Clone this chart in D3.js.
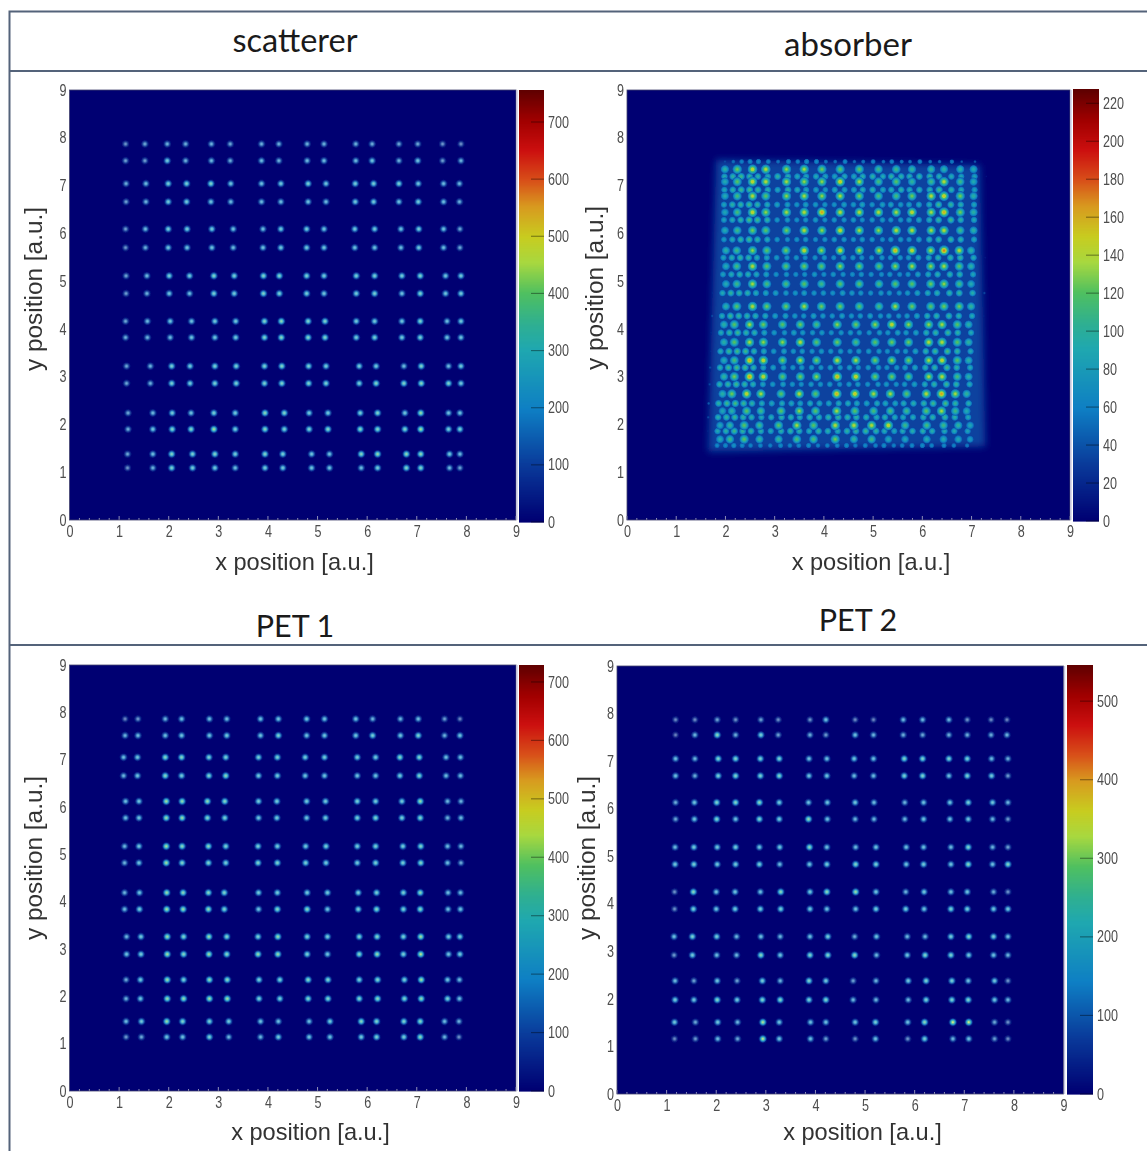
<!DOCTYPE html>
<html><head><meta charset="utf-8">
<script src="https://d3js.org/d3.v7.min.js"></script>
<style>html,body{margin:0;background:#fff}svg{display:block}</style></head><body>
<div id="chart"></div>
<script>
const axisTicks=[0,1,2,3,4,5,6,7,8,9];
const xLabel="x position [a.u.]", yLabel="y position [a.u.]";
const palettePositions=[0,.13,.26,.40,.46,.53,.6,.66,.73,.79,.86,.93,1];
const paletteColors=["#000072","#0a3a9a","#0f7fc4","#20a8b0","#30b090","#50c060","#a8d840","#c8cc20","#d89a20","#d8501a","#cc1010","#a00000","#5f0000"];

const scatTicks=[0,100,200,300,400,500,600,700];
const absTicks=[0,20,40,60,80,100,120,140,160,180,200,220];
const pet1Ticks=[0,100,200,300,400,500,600,700];
const pet2Ticks=[0,100,200,300,400,500];

const scatY=[7.87,7.52,7.04,6.66,6.09,5.70,5.11,4.74,4.16,3.82,3.22,2.86,2.24,1.90,1.38,1.09];
const scatX=[
[1.13,1.52,1.97,2.34,2.86,3.24,3.87,4.22,4.79,5.13,5.77,6.10,6.64,7.02,7.52,7.89],
[1.14,1.54,1.99,2.36,2.85,3.25,3.87,4.26,4.81,5.17,5.76,6.13,6.64,7.03,7.54,7.86],
[1.13,1.53,1.99,2.37,2.87,3.30,3.90,4.26,4.78,5.13,5.75,6.15,6.68,7.04,7.54,7.87],
[1.14,1.56,2.01,2.42,2.91,3.32,3.91,4.23,4.78,5.13,5.78,6.15,6.70,7.07,7.58,7.89],
[1.13,1.57,2.03,2.46,2.93,3.35,3.93,4.27,4.81,5.15,5.78,6.15,6.70,7.07,7.61,7.89],
[1.15,1.63,2.06,2.43,2.93,3.36,3.93,4.28,4.82,5.17,5.84,6.18,6.74,7.09,7.64,7.89],
[1.18,1.68,2.07,2.45,2.91,3.34,3.94,4.33,4.83,5.21,5.86,6.21,6.76,7.08,7.64,7.87],
[1.17,1.68,2.06,2.48,2.93,3.34,3.94,4.30,4.88,5.24,5.88,6.21,6.79,7.08,7.66,7.87]];
const scatZ=[
[120,170,190,180,200,170,190,190,190,190,190,180,170,170,130,110],
[150,140,270,190,210,180,220,190,210,220,220,250,190,240,140,200],
[180,220,300,310,340,260,240,270,310,260,290,300,320,260,220,210],
[150,200,280,280,250,220,220,230,240,220,270,280,240,290,230,190],
[140,220,290,280,280,240,230,280,280,250,270,280,250,290,240,170],
[130,190,260,240,250,220,240,270,270,260,240,240,230,270,230,170],
[160,210,300,280,340,300,340,340,310,280,300,300,290,330,260,280],
[140,190,260,230,310,280,340,310,300,260,290,310,240,330,260,290],
[170,210,260,240,280,270,340,380,330,330,280,280,260,330,230,270],
[190,200,220,260,260,270,330,360,350,340,290,310,280,310,240,250],
[170,200,310,280,310,310,320,350,320,290,290,270,220,340,220,280],
[170,190,320,290,310,320,320,340,340,320,300,350,340,370,340,270],
[170,210,290,240,300,270,370,340,280,270,300,340,260,400,240,240],
[180,260,340,350,420,290,360,310,320,350,360,350,330,420,290,310],
[170,230,350,320,340,290,340,300,260,240,360,390,380,380,270,220],
[120,200,320,290,270,230,290,270,260,240,230,290,340,340,210,160]];

const pet1Y=[7.86,7.51,7.05,6.66,6.12,5.77,5.17,4.82,4.19,3.84,3.26,2.89,2.35,1.95,1.47,1.14];
const pet1X=[
[1.12,1.38,1.93,2.26,2.82,3.17,3.85,4.21,4.78,5.14,5.77,6.11,6.67,7.03,7.56,7.87],
[1.09,1.37,1.93,2.26,2.81,3.15,3.81,4.19,4.75,5.14,5.80,6.17,6.66,7.05,7.59,7.88],
[1.13,1.40,1.95,2.27,2.78,3.13,3.81,4.18,4.78,5.16,5.80,6.17,6.70,7.07,7.62,7.89],
[1.11,1.40,1.95,2.27,2.80,3.15,3.80,4.19,4.76,5.17,5.80,6.17,6.72,7.08,7.62,7.89],
[1.11,1.41,1.96,2.29,2.80,3.12,3.81,4.19,4.79,5.20,5.82,6.19,6.73,7.07,7.63,7.88],
[1.15,1.44,1.97,2.30,2.81,3.17,3.80,4.20,4.79,5.20,5.84,6.20,6.73,7.08,7.64,7.87],
[1.14,1.43,1.97,2.30,2.82,3.18,3.82,4.24,4.81,5.21,5.84,6.21,6.75,7.09,7.62,7.86],
[1.14,1.45,1.96,2.28,2.82,3.21,3.85,4.21,4.83,5.25,5.88,6.19,6.74,7.07,7.56,7.85]];
const pet1Z=[
[90,130,190,220,220,210,230,240,250,230,230,190,200,210,140,90],
[190,210,220,240,240,260,240,310,230,250,250,290,250,310,180,240],
[220,250,340,340,300,290,290,300,280,280,280,260,340,320,220,220],
[200,240,340,270,310,360,260,270,240,240,230,230,270,320,210,210],
[220,240,400,370,370,340,280,280,270,270,290,280,270,390,200,190],
[220,240,380,390,330,300,250,270,250,270,290,320,290,330,180,210],
[200,250,410,350,360,300,290,280,260,290,280,300,280,330,210,200],
[190,240,400,330,330,290,330,320,300,270,270,300,290,340,220,170],
[190,240,390,360,350,320,280,280,270,270,280,300,300,360,220,210],
[210,280,400,390,380,310,230,340,360,240,290,340,300,350,210,230],
[200,260,390,320,390,320,300,380,300,280,310,330,290,400,260,280],
[230,280,400,340,400,340,380,380,300,240,340,380,290,430,230,270],
[170,260,390,290,370,350,290,300,340,310,290,320,290,400,240,210],
[180,250,380,380,400,400,290,290,330,320,330,360,320,370,300,220],
[210,270,390,320,300,270,230,220,220,270,350,320,310,340,210,180],
[130,170,240,230,300,200,200,270,240,230,260,300,280,360,190,110]];

const pet2Y=[7.87,7.55,7.05,6.69,6.13,5.78,5.19,4.83,4.25,3.89,3.31,2.92,2.38,1.98,1.51,1.16];
const pet2X=[
[1.18,1.57,2.02,2.39,2.90,3.25,3.89,4.21,4.80,5.17,5.77,6.16,6.69,7.06,7.54,7.86],
[1.18,1.57,2.04,2.39,2.89,3.27,3.87,4.23,4.78,5.17,5.79,6.16,6.69,7.06,7.55,7.88],
[1.18,1.56,2.01,2.39,2.87,3.27,3.86,4.24,4.80,5.18,5.80,6.18,6.71,7.08,7.57,7.88],
[1.17,1.55,2.02,2.39,2.87,3.28,3.88,4.23,4.81,5.22,5.83,6.18,6.73,7.08,7.57,7.88],
[1.16,1.54,2.00,2.38,2.89,3.30,3.89,4.23,4.81,5.22,5.82,6.19,6.73,7.06,7.59,7.88],
[1.15,1.52,2.01,2.41,2.90,3.29,3.89,4.25,4.79,5.23,5.85,6.21,6.73,7.09,7.59,7.88],
[1.17,1.55,2.02,2.42,2.93,3.29,3.87,4.21,4.76,5.22,5.87,6.23,6.75,7.08,7.61,7.88],
[1.16,1.58,2.03,2.43,2.94,3.27,3.90,4.21,4.80,5.21,5.86,6.20,6.77,7.09,7.61,7.88]];
const pet2Z=[
[70,70,110,80,110,80,90,170,70,60,150,150,150,90,70,60],
[50,140,260,130,220,110,130,100,170,140,130,120,130,130,130,140],
[170,150,240,240,230,230,170,170,190,170,250,240,230,220,160,130],
[170,130,220,240,230,250,180,180,160,160,230,240,170,230,200,100],
[130,180,240,250,270,200,170,180,190,160,140,170,180,220,190,140],
[120,180,240,170,240,200,280,170,150,150,150,180,170,180,150,100],
[160,200,190,210,180,190,270,170,160,180,170,170,160,240,140,110],
[190,220,190,200,220,160,180,210,250,220,180,200,180,260,170,250],
[80,260,170,180,170,270,190,270,290,180,140,190,170,180,130,90],
[80,220,180,200,210,220,190,170,170,210,210,180,230,210,190,190],
[170,230,210,150,170,150,170,210,130,180,150,150,210,250,210,170],
[100,200,160,150,260,180,240,240,260,150,180,240,230,190,170,140],
[160,110,180,110,210,140,240,190,110,140,190,230,220,170,190,90],
[200,180,250,190,240,250,220,240,150,140,150,220,230,240,180,150],
[190,120,190,150,310,180,170,170,180,220,170,270,340,340,120,80],
[70,100,160,120,320,180,170,110,90,170,90,220,150,170,110,70]];

const absY=[7.34,7.08,6.78,6.44,6.06,5.64,5.31,4.94,4.47,4.09,3.72,3.34,3.00,2.64,2.28,1.98,1.69];
const absXTop=[1.99,2.24,2.55,2.82,3.24,3.60,3.96,4.33,4.72,5.11,5.47,5.79,6.18,6.44,6.77,7.04];
const absXUpper=[2.01,2.23,2.55,2.84,3.23,3.60,3.95,4.33,4.72,5.12,5.45,5.79,6.17,6.44,6.75,6.99];
const absXMiddle=[1.97,2.18,2.49,2.77,3.16,3.52,3.85,4.27,4.65,5.04,5.38,5.72,6.13,6.40,6.71,6.94];
const absXLower=[1.94,2.13,2.43,2.72,3.13,3.50,3.83,4.26,4.63,5.01,5.35,5.68,6.08,6.39,6.67,6.90];
const absXBottom=[1.89,2.09,2.38,2.69,3.08,3.45,3.79,4.23,4.61,4.97,5.31,5.65,6.09,6.43,6.73,6.97];
const absRowColumns=[absXTop,absXTop,absXTop,absXTop,absXTop,absXUpper,absXUpper,absXUpper,absXUpper,absXMiddle,absXMiddle,absXMiddle,absXMiddle,absXLower,absXLower,absXBottom,absXBottom];
const absZ=[
[90,115,135,130,120,125,115,110,110,100,100,95,95,90,90,85],
[85,110,135,130,125,120,120,140,125,105,110,95,100,130,100,85],
[85,105,130,110,120,125,120,125,115,105,105,115,130,140,115,90],
[80,105,135,120,125,130,150,130,130,130,125,135,125,145,115,90],
[85,100,115,110,115,130,120,135,125,120,130,130,125,130,100,90],
[90,100,120,110,115,135,120,135,125,125,145,135,125,155,130,90],
[85,105,130,110,110,115,110,120,115,110,120,125,120,125,110,90],
[85,100,125,105,105,110,100,110,110,105,110,110,115,120,105,85],
[90,110,130,115,115,125,115,115,110,105,125,115,110,115,115,95],
[90,110,125,115,110,115,105,120,115,120,135,120,120,125,110,90],
[90,110,125,120,120,130,110,115,105,110,115,115,130,130,110,95],
[85,105,145,135,115,125,115,130,125,115,120,115,125,135,110,90],
[95,115,150,135,110,115,120,145,140,115,115,110,125,130,105,90],
[90,115,135,125,110,130,110,145,140,125,125,110,130,150,125,95],
[80,90,110,100,110,120,110,125,110,105,105,100,110,125,100,85],
[80,95,110,100,110,125,110,130,130,130,135,100,105,100,95,80],
[85,100,110,95,95,105,105,115,95,100,80,80,85,85,80,70]];
const absMinorY=[7.50,7.19,6.91,6.60,6.28,5.87,5.49,5.14,4.75,4.27,3.92,3.53,3.19,2.84,2.44,2.15,1.86,1.56];
const absMinorX=[1.69,1.89,2.06,2.23,2.40,2.57,2.77,2.97,3.18,3.37,3.55,3.75,3.94,4.13,4.33,4.52,4.70,4.90,5.11,5.28,5.48,5.65,5.85,6.06,6.25,6.50,6.70,6.97,7.21];
const absMinorShift=[.1,.09,.09,.08,.08,.08,.07,.06,.05,.04,.02,.01,0,-.01,-.03,-.04,-.05,-.06];
const absMinorZ=[
[0,38,48,55,60,62,58,50,60,55,62,60,50,48,58,45,50,55,48,55,50,48,55,48,45,52,42,40,0],
[30,85,92,100,95,90,85,95,88,82,80,85,80,78,85,80,88,92,85,95,90,88,92,95,88,85,80,78,35],
[28,80,90,98,100,95,88,80,92,85,80,75,72,80,75,78,85,90,80,85,90,85,88,90,100,90,85,75,30],
[25,78,92,95,100,92,85,78,75,70,75,72,70,68,75,72,80,70,75,78,72,75,80,85,100,95,88,80,30],
[28,75,85,92,105,100,92,70,72,65,68,72,65,70,68,72,66,70,72,68,70,74,78,85,95,100,90,82,32],
[30,72,85,95,100,92,85,70,65,68,70,65,68,72,70,68,72,70,66,70,72,68,75,88,92,95,90,80,30],
[32,78,88,95,92,85,80,72,68,70,65,68,70,65,72,70,68,66,70,65,70,72,76,85,90,92,95,85,35],
[30,75,85,90,88,82,78,68,70,65,68,72,66,70,68,65,70,68,66,70,65,68,75,82,88,90,92,80,32],
[35,85,95,92,90,85,80,75,72,70,75,70,72,68,75,72,70,68,72,70,68,72,78,85,88,92,95,88,38],
[38,85,98,95,92,88,85,75,78,72,70,78,72,70,75,70,72,75,70,72,68,72,78,88,92,95,90,85,35],
[35,85,95,100,92,90,80,72,70,75,72,70,72,68,70,72,70,68,72,70,75,72,76,88,95,98,92,85,32],
[35,85,98,102,100,90,82,72,75,70,72,68,72,70,72,68,70,72,70,68,72,70,78,90,98,105,95,82,30],
[38,88,100,105,100,92,80,75,72,70,72,70,68,72,70,72,68,70,72,68,70,75,80,88,95,100,92,85,32],
[38,90,95,100,95,88,78,72,75,70,68,72,70,72,68,70,72,68,70,72,68,72,76,85,92,98,95,85,35],
[40,92,100,105,98,92,85,80,85,80,78,85,80,78,82,85,80,78,82,80,78,85,88,92,100,105,95,88,35],
[38,88,95,98,92,88,82,85,90,88,85,90,88,92,95,90,92,88,85,88,85,82,85,88,92,95,90,82,32],
[35,82,90,100,95,92,88,82,90,95,90,85,95,88,85,92,95,98,92,85,80,85,88,90,88,85,85,78,30],
[30,60,62,65,62,58,60,55,62,58,60,62,55,58,60,62,55,60,58,62,55,58,60,62,58,60,55,52,0]];
const absHazeOutline=[[1.81,7.54],[7.17,7.43],[7.28,1.54],[1.65,1.43]];
const absHazeLevel=33;

const toCells=(ys,xsForRow,zs)=>zs.flatMap((row,i)=>row.map((z,j)=>({x:xsForRow(i)[j],y:ys[i],z})));
const panels=[
 {name:"scatterer",box:[69.5,516,90,520],bar:[519,544,90,522],max:756,ticks:scatTicks,tsize:32.5,
  title:[295,52],xl:[294.5,570],yl:[34,289],soft:.42,floor:0,spotMax:756,cells:toCells(scatY,i=>scatX[i>>1],scatZ)},
 {name:"absorber",box:[627,1070,90,520],bar:[1073,1099,90,521],max:227,ticks:absTicks,tsize:33,
  title:[848,56],xl:[871,570],yl:[595,288],soft:0,floor:absHazeLevel,spotMax:205,haze:absHazeOutline,
  minor:absMinorZ.flatMap((row,i)=>row.map((z,j)=>({x:absMinorX[j]+absMinorShift[i],y:absMinorY[i],z})).filter(d=>d.z>0)),
  cells:toCells(absY,i=>absRowColumns[i],absZ)},
 {name:"PET 1",box:[69.5,516,665,1091],bar:[519,544,665,1091],max:729,ticks:pet1Ticks,tsize:30.5,
  title:[295,637],xl:[310.5,1140],yl:[34,858],soft:.42,floor:0,spotMax:729,cells:toCells(pet1Y,i=>pet1X[i>>1],pet1Z)},
 {name:"PET 2",box:[617,1063.5,666,1094],bar:[1067,1093,665,1094],max:546,ticks:pet2Ticks,tsize:30.5,
  title:[858,631],xl:[862.5,1140],yl:[587,858],soft:.42,floor:0,spotMax:546,cells:toCells(pet2Y,i=>pet2X[i>>1],pet2Z)}
];

const svg=d3.select("#chart").append("svg").attr("width",1147).attr("height",1151);
const defs=svg.append("defs");
defs.append("filter").attr("id","soft").append("feGaussianBlur").attr("stdDeviation",.45);
defs.append("filter").attr("id","spotblur").attr("x","0").attr("y","0").attr("width","100%").attr("height","100%")
  .attr("filterUnits","objectBoundingBox").append("feGaussianBlur").attr("stdDeviation",.55);
defs.append("filter").attr("id","haze").attr("x","-10%").attr("y","-10%").attr("width","120%").attr("height","120%")
  .append("feGaussianBlur").attr("stdDeviation",3.5);

const palette=d3.scaleLinear().domain(palettePositions).range(paletteColors).interpolate(d3.interpolateRgb).clamp(true);

svg.append("rect").attr("width",1147).attr("height",1151).attr("fill","#fff");
const frame=svg.append("g").attr("stroke","#54637a").attr("stroke-width",2).attr("fill","none");
frame.append("path").attr("d","M9.5,1151V11.5H1147");
frame.append("path").attr("d","M9.5,71H1147");
frame.append("path").attr("d","M9.5,645H1147");

function gradientFor(p,i,v,radius,sigma){
  const q=Math.round(v/p.spotMax*100), id=`g${i}_${radius*10}_${q}`;
  if(defs.select("#"+id).empty()){
    const g=defs.append("radialGradient").attr("id",id);
    const v0=q/100, floor=p.floor/p.spotMax;
    for(let k=0;k<=10;k++){
      const t=k/10, f=Math.exp(-(t*radius)*(t*radius)/(2*sigma*sigma));
      const val=v0*f;
      const c=d3.interpolateRgb(palette(val),"#ffffff")(p.soft*f*f);
      const a=floor>0?Math.max(0,Math.min(1,(val-floor)/.04)):Math.min(1,f/.22);
      g.append("stop").attr("offset",t).attr("stop-color",c).attr("stop-opacity",k==10?0:a);
    }
  }
  return `url(#${id})`;
}

const squeeze=sel=>sel.attr("fill","#4d4d4d").attr("font-size",16)
   .attr("font-family","'Liberation Sans',sans-serif").attr("filter","url(#soft)")
   .attr("textLength",function(){return this.textContent.length*7;}).attr("lengthAdjust","spacingAndGlyphs");

panels.forEach((p,i)=>{
  const [l,r,t,b]=p.box, g=svg.append("g");
  const x=d3.scaleLinear().domain([0,9]).range([l,r]);
  const y=d3.scaleLinear().domain([0,9]).range([b,t]);
  g.append("rect").attr("x",l).attr("y",t).attr("width",r-l).attr("height",b-t).attr("fill",paletteColors[0]);
  if(p.haze){
    g.append("path").attr("d",d3.line().x(d=>x(d[0])).y(d=>y(d[1])).curve(d3.curveLinearClosed)(p.haze))
     .attr("fill",palette(absHazeLevel/p.max)).attr("filter","url(#haze)");
  }
  const spots=g.append("g").attr("filter","url(#spotblur)");
  const drawSpots=(data,radius,sigma)=>spots.append("g").selectAll("circle").data(data).join("circle")
     .attr("cx",d=>x(d.x)).attr("cy",d=>y(d.y)).attr("r",radius)
     .attr("fill",d=>gradientFor(p,i,d.z,radius,sigma));
  if(p.minor) drawSpots(p.minor,6,2.7);
  if(p.minor) drawSpots(p.cells,7.5,3.2); else drawSpots(p.cells,5.5,1.95);

  const ax=g.append("g").attr("transform",`translate(0,${b})`)
     .call(d3.axisBottom(x).tickValues(axisTicks).tickSize(0).tickPadding(6));
  const ay=g.append("g").attr("transform",`translate(${l},0)`)
     .call(d3.axisLeft(y).tickValues(axisTicks).tickSize(0).tickPadding(3));
  [ax,ay].forEach(a=>{a.select(".domain").remove(); squeeze(a.selectAll("text"));});
  const minorTicks=d3.range(0,9.01,.2);
  g.append("g").selectAll("line").data(minorTicks).join("line")
    .attr("x1",d=>x(d)).attr("x2",d=>x(d)).attr("y1",b).attr("y2",d=>Number.isInteger(+d.toFixed(3))?b-4:b-2)
    .attr("stroke","#8f8fb8").attr("stroke-width",1);
  g.append("rect").attr("x",l).attr("y",t).attr("width",r-l).attr("height",b-t)
    .attr("fill","none").attr("stroke","#45456f").attr("stroke-width",.8);
  g.append("line").attr("x1",r+1).attr("x2",r+1).attr("y1",t).attr("y2",b).attr("stroke","#c9c9e2").attr("stroke-width",1.4);

  const [bl,br,bt,bb]=p.bar;
  const cy=d3.scaleLinear().domain([0,p.max]).range([bb,bt]);
  const steps=d3.range(0,p.max,p.max/(bb-bt));
  g.append("g").selectAll("rect").data(steps).join("rect")
    .attr("x",bl).attr("width",br-bl).attr("y",d=>cy(d)-1).attr("height",1.6)
    .attr("fill",d=>palette(d/p.max));
  const ca=g.append("g").attr("transform",`translate(${br},0)`)
    .call(d3.axisRight(cy).tickValues(p.ticks).tickSize(0).tickPadding(4));
  ca.select(".domain").remove();
  squeeze(ca.selectAll("text"));
  g.append("g").selectAll("line").data(p.ticks).join("line")
    .attr("x1",br-13).attr("x2",br).attr("y1",d=>cy(d)).attr("y2",d=>cy(d))
    .attr("stroke","#000").attr("stroke-opacity",.38).attr("stroke-width",1.2);

  g.append("text").attr("x",p.title[0]).attr("y",p.title[1]).attr("text-anchor","middle")
    .attr("font-family","Lato,'Open Sans',sans-serif").attr("font-size",p.tsize).attr("fill","#1a1a1a").text(p.name);
  g.append("text").attr("x",p.xl[0]).attr("y",p.xl[1]).attr("text-anchor","middle")
    .attr("font-family","'Liberation Sans',sans-serif").attr("font-size",23.6).attr("fill","#333").attr("filter","url(#soft)").text(xLabel);
  g.append("text").attr("transform",`translate(${p.yl[0]+8},${p.yl[1]}) rotate(-90)`).attr("text-anchor","middle")
    .attr("font-family","'Liberation Sans',sans-serif").attr("font-size",24.4).attr("fill","#333").attr("filter","url(#soft)").text(yLabel);
});
</script></body></html>
